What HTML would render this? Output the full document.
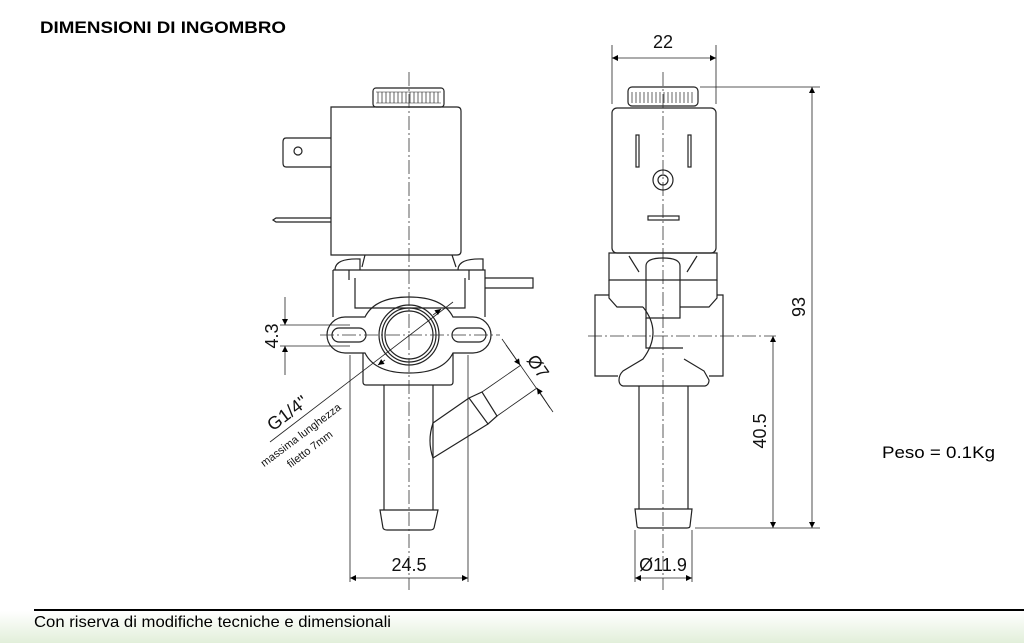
<!DOCTYPE html>
<html><head><meta charset="utf-8"><style>
html,body{margin:0;padding:0;background:#fff;}
body{width:1024px;height:643px;position:relative;overflow:hidden;font-family:"Liberation Sans",Arial,sans-serif;}
.foot{position:absolute;left:0;top:611px;width:1024px;height:32px;background:linear-gradient(#fff,#e2efda);}
svg{position:absolute;left:0;top:0;}
</style></head><body>
<div class="foot"></div>
<svg width="1024" height="643" viewBox="0 0 1024 643" font-family="Liberation Sans, Arial, sans-serif">
<defs>
<marker id="a" viewBox="0 0 10 10" refX="10" refY="5" markerWidth="10" markerHeight="6" orient="auto-start-reverse" markerUnits="userSpaceOnUse"><path d="M0,0L10,5L0,10z" fill="#000"/></marker>
</defs>
<text x="40" y="33" font-size="17" font-weight="bold" textLength="246" lengthAdjust="spacingAndGlyphs">DIMENSIONI DI INGOMBRO</text>
<line x1="34" y1="610" x2="1024" y2="610" stroke="#000" stroke-width="2"/>
<text x="34" y="627" font-size="16" textLength="357" lengthAdjust="spacingAndGlyphs">Con riserva di modifiche tecniche e dimensionali</text>
<text x="882" y="458" font-size="17" textLength="113" lengthAdjust="spacingAndGlyphs">Peso = 0.1Kg</text>

<g fill="none" stroke="#222" stroke-width="1.2">
<rect x="373" y="88" width="71" height="19" rx="3"/>
<path d="M376 92h65M376 103h65" stroke-width="0.6"/>
<path d="M378 92v11M382 92v11M386 92v11M390 92v11M394 92v11M398 92v11M402 92v11M406 92v11M410 92v11M414 92v11M418 92v11M422 92v11M426 92v11M430 92v11M434 92v11M438 92v11" stroke-width="0.7"/>
<path d="M331 107h126q4 0 4 4v140q0 4-4 4h-126z"/>
<path d="M331 138h-45q-3 0-3 4v21q0 4 3 4h45"/>
<circle cx="298" cy="151" r="4"/>
<path d="M331 218h-55l-3 2l3 2h55"/>
<path d="M365 255l-3 12M452 255l4 12"/>
<path d="M335 270q0-12 25-11v11M458 270q0-12 25-11v11" />
<path d="M333 270h152v47M333 270v47"/>
<path d="M349 270v10M469 270v10M355 278v30h110v-30"/>
<path d="M485 278h48v10h-48"/>
<path d="M345 317h20q10-20 44-20q34 0 44 20h20a18 18 0 0 1 0 36h-20q-10 20-44 20q-34 0-44-20h-20a18 18 0 0 1 0-36z"/>
<rect x="332" y="328" width="34" height="14" rx="7"/>
<rect x="452" y="328" width="34" height="14" rx="7"/>
<circle cx="409" cy="335" r="30"/><circle cx="409" cy="335" r="27"/><circle cx="409" cy="335" r="24"/>
<path d="M363 353v29q0 3 3 3h84q3 0 3-3v-29"/>
<path d="M384 385v125M433 385v125"/>
<path d="M380 510h58l-4 18q-1 2-4 2h-43q-3 0-4-2z"/>
<path d="M433 423L469 398M433 458L488 424M433 423q-6 18 0 35"/>
<path d="M469 398l13-6l15 24l-9 8z"/>
</g>
<g fill="none" stroke="#333" stroke-width="0.8" stroke-dasharray="14,3,2,3">
<line x1="409" y1="72" x2="409" y2="590"/>
<line x1="320" y1="335" x2="500" y2="335"/>
<line x1="663" y1="72" x2="663" y2="590"/>
<line x1="588" y1="336" x2="776" y2="336"/>
</g>
<g fill="none" stroke="#222" stroke-width="0.8">
<line x1="350" y1="355" x2="350" y2="582"/><line x1="468" y1="355" x2="468" y2="582"/>
<line x1="350" y1="578" x2="468" y2="578" marker-start="url(#a)" marker-end="url(#a)"/>
<line x1="280" y1="325" x2="350" y2="325"/><line x1="280" y1="346" x2="350" y2="346"/>
<line x1="285" y1="297" x2="285" y2="325" marker-end="url(#a)"/>
<line x1="285" y1="375" x2="285" y2="346" marker-end="url(#a)"/>
<line x1="270" y1="442" x2="453" y2="302"/>
<line x1="385" y1="360" x2="378" y2="365" marker-end="url(#a)"/>
<line x1="433" y1="315" x2="441" y2="309" marker-end="url(#a)"/>
<line x1="482" y1="392" x2="521" y2="365"/><line x1="497" y1="416" x2="537" y2="388"/>
<line x1="502" y1="339" x2="553" y2="412"/>
<line x1="506" y1="345" x2="520" y2="365" marker-end="url(#a)"/>
<line x1="550" y1="408" x2="537" y2="388" marker-end="url(#a)"/>
</g>
<g fill="none" stroke="#222" stroke-width="1.2">
<rect x="628" y="87" width="70" height="19" rx="4"/>
<path d="M632 92v11M636 92v11M640 92v11M644 92v11M648 92v11M652 92v11M656 92v11M660 92v11M664 92v11M668 92v11M672 92v11M676 92v11M680 92v11M684 92v11M688 92v11M692 92v11" stroke-width="0.7"/>
<rect x="612" y="108" width="104" height="145" rx="5"/>
<rect x="636" y="135" width="3" height="32"/><rect x="688" y="135" width="3" height="32"/>
<circle cx="663" cy="180" r="10"/><circle cx="663" cy="180" r="5"/>
<rect x="648" y="216" width="31" height="4"/>
<path d="M609 253h108v27h-108z"/>
<path d="M629 256l10 16M697 256l-10 16"/>
<path d="M646 272v-6q0-8 17-8q17 0 17 8v6M646 270v48h34v-48"/>
<path d="M609 280v18l8 9h26M717 280v18l-8 9h-29"/>
<path d="M609 295h-14v81h23M717 295h6v81h-14"/>
<path d="M643 307q20 25 0 52l-20 12q-4 4-4 9q0 5 4 6h82q4-1 4-6l-5-9l-20-12"/>
<path d="M646 318v30h37"/>
<path d="M639 386v123M688 386v123"/>
<path d="M635 509h57l-2 17q0 2-3 2h-47q-3 0-3-2z"/>
</g>
<g fill="none" stroke="#222" stroke-width="0.8">
<line x1="612" y1="45" x2="612" y2="104"/><line x1="716" y1="45" x2="716" y2="104"/>
<line x1="612" y1="58" x2="716" y2="58" marker-start="url(#a)" marker-end="url(#a)"/>
<line x1="700" y1="87" x2="820" y2="87"/><line x1="695" y1="528" x2="820" y2="528"/>
<line x1="812" y1="87" x2="812" y2="528" marker-start="url(#a)" marker-end="url(#a)"/>
<line x1="773" y1="336" x2="773" y2="528" marker-start="url(#a)" marker-end="url(#a)"/>
<line x1="635" y1="530" x2="635" y2="582"/><line x1="692" y1="530" x2="692" y2="582"/>
<line x1="635" y1="578" x2="692" y2="578" marker-start="url(#a)" marker-end="url(#a)"/>
</g>
<g font-size="18" fill="#111">
<text x="409" y="571" text-anchor="middle">24.5</text>
<text x="663" y="48" text-anchor="middle">22</text>
<text x="663" y="571" text-anchor="middle">Ø11.9</text>
<text transform="translate(278,336) rotate(-90)" text-anchor="middle">4.3</text>
<text transform="translate(805,307) rotate(-90)" text-anchor="middle">93</text>
<text transform="translate(766,431) rotate(-90)" text-anchor="middle">40.5</text>
<text transform="translate(533,370) rotate(55)" text-anchor="middle">Ø7</text>
<text transform="translate(291,418) rotate(-37)" text-anchor="middle">G1/4"</text>
<text transform="translate(303,438) rotate(-37)" text-anchor="middle" font-size="11">massima lunghezza</text>
<text transform="translate(312,452) rotate(-37)" text-anchor="middle" font-size="11">filetto 7mm</text>
</g>
</svg>
</body></html>
